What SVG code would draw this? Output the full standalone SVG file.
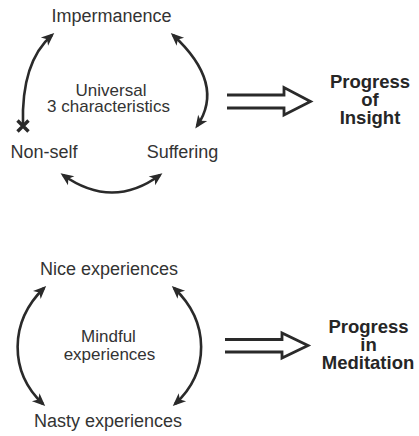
<svg xmlns="http://www.w3.org/2000/svg" width="419" height="436" viewBox="0 0 419 436">
  <style>
    .lbl { font-family: "Liberation Sans", Arial, sans-serif; font-size: 18px; fill: #333; text-anchor: middle; }
    .mid { font-family: "Liberation Sans", Arial, sans-serif; font-size: 17px; fill: #333; text-anchor: middle; }
    .res { font-family: "Liberation Sans", Arial, sans-serif; font-size: 18.5px; font-weight: bold; fill: #262626; text-anchor: middle; }
    .arc { fill: none; stroke: #2a2a2a; stroke-width: 2.6; }
    .big { fill: none; stroke: #2a2a2a; stroke-width: 2.8; stroke-linejoin: miter; }
  </style>
  <defs>
    <marker id="head" markerUnits="userSpaceOnUse" markerWidth="16" markerHeight="14" viewBox="-1 -7 16 14" refX="10" refY="0" orient="auto-start-reverse">
      <path d="M0,-5.5 L13,0 L0,5.5 L3.5,0 Z" fill="#2a2a2a"/>
    </marker>
  </defs>
  <rect width="419" height="436" fill="#fff"/>

  <!-- three characteristics cycle -->
  <g id="impermanence"><text class="lbl" x="111.5" y="22">Impermanence</text></g>
  <g id="non-self"><text class="lbl" x="44" y="158">Non-self</text></g>
  <g id="suffering"><text class="lbl" x="182.5" y="158">Suffering</text></g>
  <g id="universal"><text class="mid" x="111" y="96">Universal</text><text class="mid" x="108.5" y="112">3 characteristics</text></g>
  <g id="insight"><text class="res" x="370" y="88">Progress</text><text class="res" x="370" y="106">of</text><text class="res" x="370" y="124">Insight</text></g>

  <!-- experiences cycle -->
  <g id="nice"><text class="lbl" x="109" y="275">Nice experiences</text></g>
  <g id="nasty"><text class="lbl" x="108" y="427">Nasty experiences</text></g>
  <g id="mindful"><text class="mid" x="108.5" y="342">Mindful</text><text class="mid" x="109.5" y="360">experiences</text></g>
  <g id="meditation"><text class="res" x="368.5" y="333">Progress</text><text class="res" x="368.5" y="351">in</text><text class="res" x="368" y="369">Meditation</text></g>

  <g id="connectors">
    <!-- upper cycle -->
    <path class="arc" d="M23,125 Q21,62 52,35" marker-end="url(#head)"/>
    <path d="M17.5,120.5 L28.5,131.5 M28.5,120.5 L17.5,131.5" stroke="#2a2a2a" stroke-width="3.4" fill="none"/>
    <path class="arc" d="M173,35 Q226,84 197,126" marker-start="url(#head)" marker-end="url(#head)"/>
    <path class="arc" d="M63,175 Q112.5,210 160,175" marker-start="url(#head)" marker-end="url(#head)"/>
    <!-- lower cycle -->
    <path class="arc" d="M44,288 C9,322 9,372 43,404" marker-start="url(#head)" marker-end="url(#head)"/>
    <path class="arc" d="M174,288 C210,322 210,372 175,404" marker-start="url(#head)" marker-end="url(#head)"/>
    <!-- implication arrows -->
    <path class="big" d="M227,95 H284 V87.5 L310.5,101.5 L284,115 V108 H227"/>
    <path class="big" d="M225,339.5 H282 V333 L308,345.5 L282,358 V352 H225"/>
  </g>
</svg>
